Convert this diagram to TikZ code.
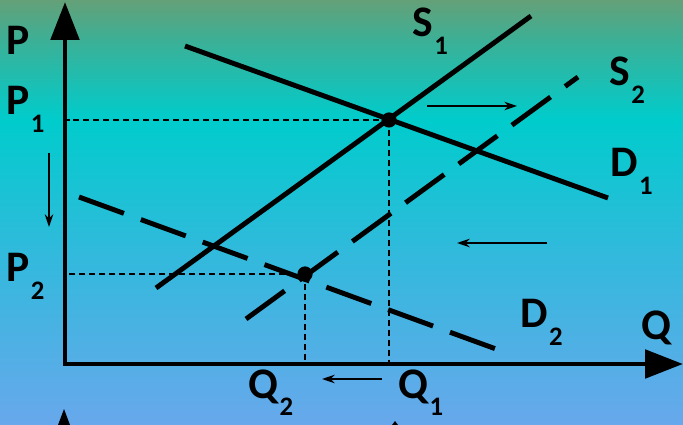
\documentclass[tikz,border=0pt]{standalone}
\usepackage{fontspec}
\setmainfont{Carlito}
\usepackage{xcolor}
\usepackage{tikz}
\usetikzlibrary{arrows.meta}
\definecolor{BGTop}{HTML}{64A078}
\definecolor{BGUpper}{HTML}{3CB096}
\definecolor{BGCyan}{HTML}{00CCCC}
\definecolor{BGMid}{HTML}{30BADC}
\definecolor{BGBottom}{HTML}{68A8EC}
\pgfdeclareverticalshading{slidebg}{100bp}{color(0bp)=(BGBottom); color(25bp)=(BGBottom); color(45.6bp)=(BGMid); color(60.9bp)=(BGCyan); color(70.3bp)=(BGUpper); color(75bp)=(BGTop); color(100bp)=(BGTop)}
\newcommand{\curvelabel}[2]{#1\hspace{1pt}\raisebox{-12.8pt}{\fontsize{19}{19}\selectfont #2}}

\begin{document}
\begin{tikzpicture}[x=0.025cm,y=-0.025cm,font=\fontsize{31}{31}\selectfont\bfseries,
  curve/.style={line width=3.5pt},
  shifted/.style={curve,dash pattern=on 34pt off 12.8pt},
  guide/.style={line width=0.9pt,dash pattern=on 4.6pt off 2.5pt},
  shiftarrow/.style={line width=1.1pt,-{Stealth[length=9pt,width=6pt]}},
  axisline/.style={line width=3.5pt,line join=miter,{Triangle[length=27pt,width=20pt]}-{Triangle[length=27pt,width=20pt]}},
  dot/.style={circle,fill,inner sep=0pt,minimum size=0.38cm},
  lbl/.style={anchor=base west,inner sep=0pt}]
\useasboundingbox (0,0) rectangle (683,425);
\shade[shading=slidebg] (0,0) rectangle (683,425);
\coordinate (o) at (65,364);
\coordinate (ytop) at (65,2);
\coordinate (xend) at (683,364);
\draw[axisline] (ytop) -- (o) -- (xend);
\coordinate (s1lo) at (156,288);
\coordinate (s1hi) at (531,16);
\coordinate (d1l) at (185,46);
\coordinate (d1r) at (608,198);
\coordinate (s2lo) at (246,319);
\coordinate (s2hi) at (578,77);
\coordinate (d2l) at (79,197);
\coordinate (d2r) at (496,349);
\draw[curve] (s1lo) -- (s1hi);
\draw[curve] (d1l) -- (d1r);
\draw[shifted] (s2lo) -- (s2hi);
\draw[shifted] (d2l) -- (d2r);
\node[dot] (e1) at (389,120) {};
\node[dot] (e2) at (305,274) {};
\draw[guide] (e1.center) -- (e1 -| o);
\draw[guide] (e1.center) -- (e1 |- o);
\draw[guide] (e2.center) -- (e2 -| o);
\draw[guide] (e2.center) -- (e2 |- o);
\coordinate (ra) at (427,106);
\coordinate (rb) at (517,106);
\coordinate (la) at (547,243);
\coordinate (lb) at (457,243);
\coordinate (da) at (49,153);
\coordinate (db) at (49,227);
\coordinate (qa) at (382,379);
\coordinate (qb) at (322,379);
\draw[shiftarrow] (ra) -- (rb);
\draw[shiftarrow] (la) -- (lb);
\draw[shiftarrow] (da) -- (db);
\draw[shiftarrow] (qa) -- (qb);
\node[lbl] (lblP) at (6,55) {P};
\node[lbl] (lblPone) at (6,115) {\curvelabel{P}{1}};
\node[lbl] (lblPtwo) at (6,282) {\curvelabel{P}{2}};
\node[lbl] (lblSone) at (412,37) {\curvelabel{S}{1}};
\node[lbl] (lblStwo) at (609,86) {\curvelabel{S}{2}};
\node[lbl] (lblDone) at (610,177) {\curvelabel{D}{1}};
\node[lbl] (lblDtwo) at (520,328) {\curvelabel{D}{2}};
\node[lbl] (lblQ) at (641,340) {Q};
\node[lbl] (lblQtwo) at (248,398) {\curvelabel{Q}{2}};
\node[lbl] (lblQone) at (398,398) {\curvelabel{Q}{1}};
\fill (64,409) -- (58,425) -- (70,425) -- cycle;
\fill (395,421) -- (392,425) -- (398,425) -- cycle;
\end{tikzpicture}
\end{document}
